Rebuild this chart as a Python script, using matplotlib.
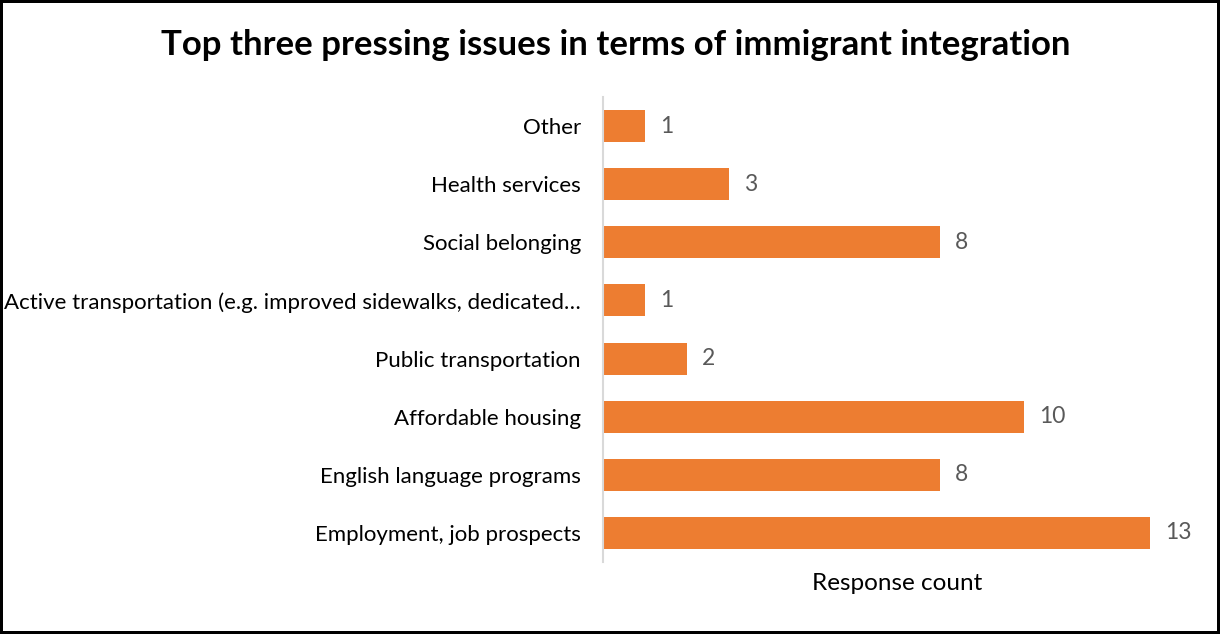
import matplotlib.pyplot as plt

categories = ["Employment, job prospects", "English language programs", "Affordable housing",
              "Public transportation", "Active transportation (e.g. improved sidewalks, dedicated\u2026",
              "Social belonging", "Health services", "Other"]
counts = [13, 8, 10, 2, 1, 8, 3, 1]

plt.rcParams['font.family'] = ['Lato', 'DejaVu Sans']

fig = plt.figure(figsize=(12.2, 6.34), dpi=100, linewidth=3, edgecolor='black')
ax = fig.add_axes([0.4943, 0.1136, 0.4827, 0.7334])

ypos = range(len(categories))
bars = ax.barh(ypos, counts, height=0.55, color='#ED7D31')
for y, v in zip(ypos, counts):
    ax.text(v + 0.36, y, str(v), va='center', ha='left', fontsize=16.5, color='#595959')

ax.set_yticks(list(ypos))
ax.set_yticklabels(categories, fontsize=16, color='black')
ax.set_xlim(0, 14)
ax.set_ylim(-0.5, 7.5)
ax.set_xticks([])
ax.tick_params(axis='y', length=0, pad=16)
for s in ['top', 'right', 'bottom']:
    ax.spines[s].set_visible(False)
ax.spines['left'].set_color('#D9D9D9')
ax.spines['left'].set_linewidth(1.5)

ax.set_xlabel("Response count", fontsize=17.5, color='black', labelpad=8)
fig.suptitle("Top three pressing issues in terms of immigrant integration",
             fontsize=25, fontweight='bold', y=0.929, x=0.505, va='center')

fig.savefig("out.png", dpi=100)
